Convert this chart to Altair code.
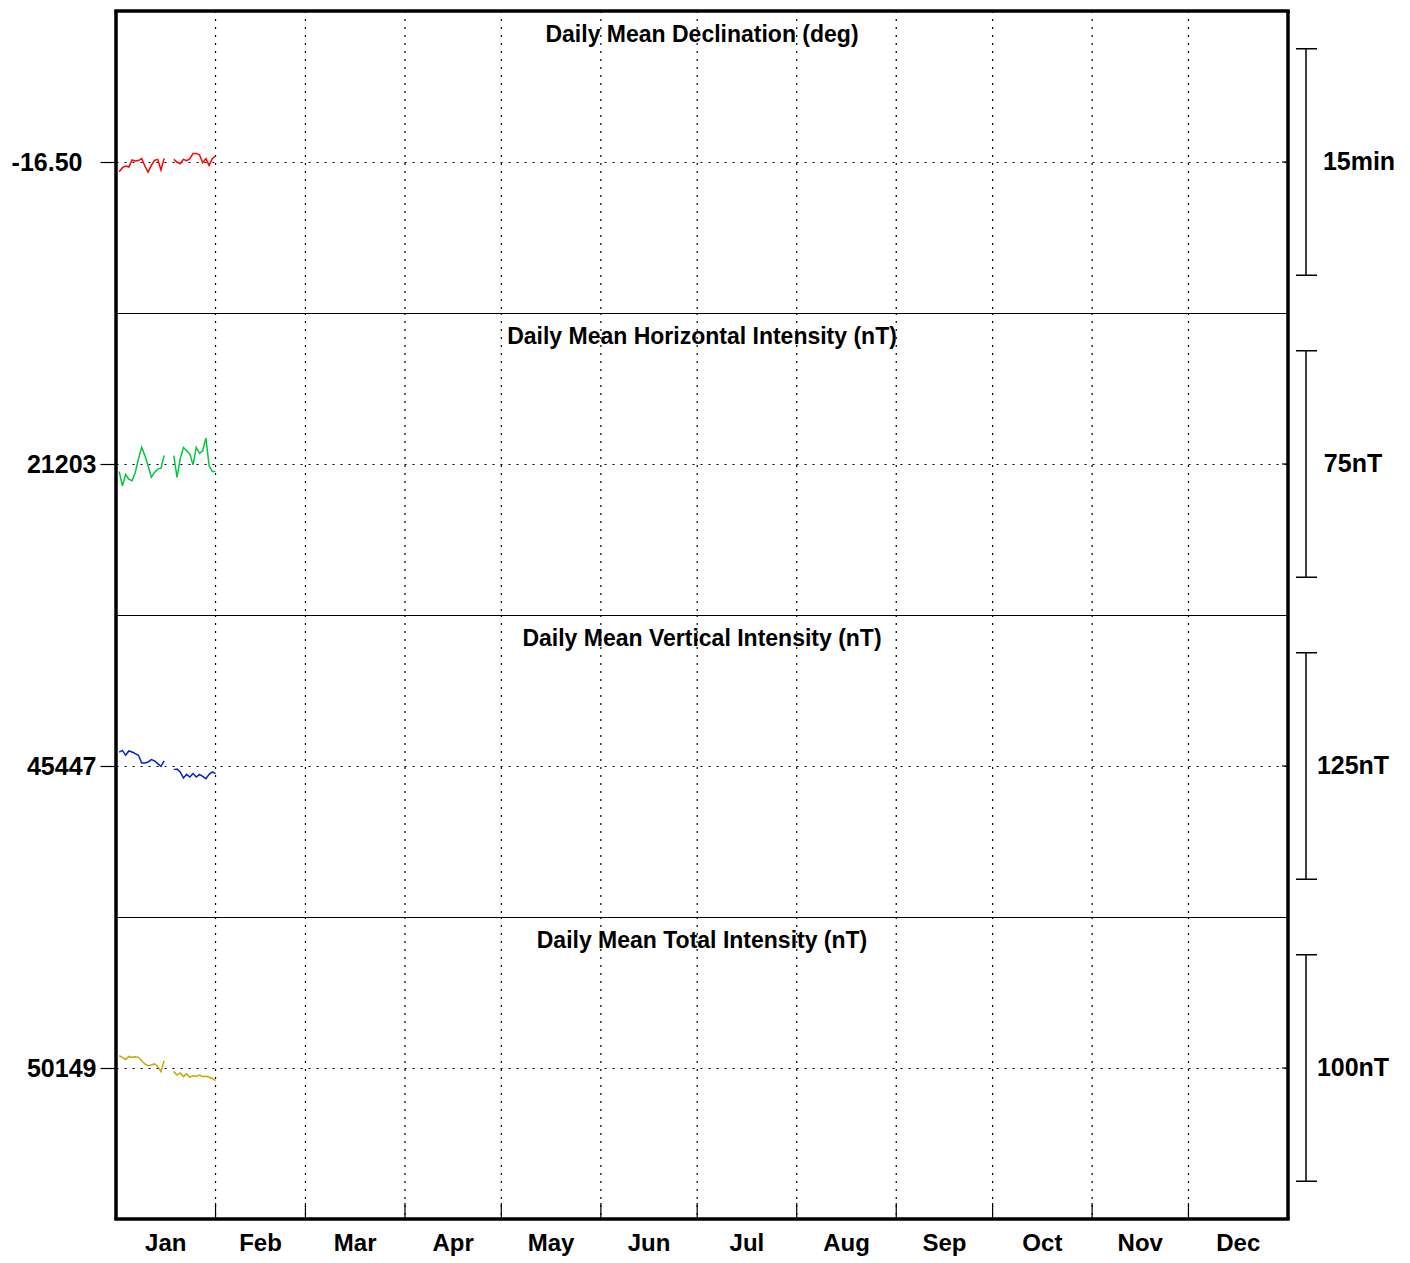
import altair as alt
import pandas as pd

# ---------------- data ----------------
days_a = list(range(1, 16))
days_b = list(range(18, 32))

dec_a = [-16.5107, -16.5063, -16.5044, -16.5055, -16.4978, -16.4989, -16.4984, -16.4963,
         -16.5044, -16.5111, -16.5038, -16.4982, -16.4971, -16.5088, -16.4960]
dec_b = [-16.4971, -16.5000, -16.5019, -16.4971, -16.4985, -16.4963, -16.4905, -16.4905,
         -16.4920, -16.5008, -16.4963, -16.5038, -16.4963, -16.4934]

h_a = [21200.5, 21195.8, 21199.5, 21198.0, 21197.5, 21200.2, 21204.7, 21208.5,
       21205.8, 21202.4, 21198.6, 21200.2, 21201.3, 21201.6, 21205.8]
h_b = [21205.8, 21198.6, 21204.7, 21208.5, 21207.4, 21206.3, 21202.7, 21208.5,
       21206.5, 21207.4, 21211.6, 21202.4, 21200.5, 21200.5]

z_a = [45454.7, 45455.6, 45452.9, 45455.3, 45454.7, 45453.8, 45452.9, 45448.7,
       45448.7, 45449.2, 45450.5, 45449.8, 45448.3, 45446.8, 45449.8]
z_b = [45445.0, 45445.3, 45443.7, 45440.4, 45442.4, 45440.9, 45442.8, 45440.9,
       45442.4, 45441.3, 45440.0, 45442.4, 45443.7, 45442.8]

f_a = [50154.4, 50153.7, 50152.7, 50154.1, 50153.7, 50154.0, 50153.7, 50152.2,
       50150.8, 50150.0, 50150.3, 50150.8, 50149.7, 50147.4, 50152.2]
f_b = [50147.4, 50145.9, 50146.8, 50145.2, 50146.4, 50144.9, 50145.6, 50145.3,
       50145.9, 50145.2, 50145.3, 50144.9, 50144.4, 50143.4]

titles = ["Daily Mean Declination (deg)", "Daily Mean Horizontal Intensity (nT)",
          "Daily Mean Vertical Intensity (nT)", "Daily Mean Total Intensity (nT)"]
centers = [-16.50, 21203, 45447, 50149]
center_fmt = [".2f", "d", "d", "d"]
scale_lengths = [0.25, 75, 125, 100]        # scale bar length in data units
scale_labels = ["15min", "75nT", "125nT", "100nT"]
colors = ["#ff0000", "#00c83c", "#0020d0", "#c8a800"]
series = [(dec_a, dec_b), (h_a, h_b), (z_a, z_b), (f_a, f_b)]

month_names = ["Jan", "Feb", "Mar", "Apr", "May", "Jun",
               "Jul", "Aug", "Sep", "Oct", "Nov", "Dec"]
month_lengths = [31, 28, 31, 30, 31, 30, 31, 31, 30, 31, 30, 31]

# ---------------- derived tables ----------------
month_starts = []
acc = 0
for L in month_lengths:
    month_starts.append(acc)
    acc += L
year_len = acc
month_mids = [s + L / 2 for s, L in zip(month_starts, month_lengths)]
boundaries = pd.DataFrame({"day": month_starts[1:]})
months_df = pd.DataFrame({"mid": month_mids, "name": month_names})

W = 1172
H = 302
FONT = "Liberation Sans"


def panel(i):
    a, b = series[i]
    c = centers[i]
    half = scale_lengths[i] * 2.0 / 3.0
    df = pd.DataFrame({
        "day": days_a + days_b,
        "value": a + b,
        "seg": ["a"] * len(a) + ["b"] * len(b),
    })
    last = i == 3
    first = i == 0

    xscale = alt.Scale(domain=[0, year_len], nice=False, zero=False)
    yscale = alt.Scale(domain=[c - half, c + half], nice=False, zero=False)

    yaxis = alt.Axis(values=[c], format=center_fmt[i],
                     labelExpr="replace(datum.label, '\u2212', '-')",
                     grid=True, gridDash=[2, 6],
                     gridColor="black", gridOpacity=1, gridWidth=1.2,
                     tickSize=16, tickColor="black", tickWidth=1.2,
                     domain=False, title=None,
                     labelFont=FONT, labelFontSize=25, labelFontWeight="bold",
                     labelColor="black", labelPadding=18 if first else 4)

    def X(field):
        return alt.X(field, scale=xscale, axis=None)

    def Y(field):
        return alt.Y(field, scale=yscale, axis=yaxis)

    line = alt.Chart(df).mark_line(strokeWidth=1.5, color=colors[i]).encode(
        x=X("day:Q"), y=Y("value:Q"), detail="seg:N")

    grid = alt.Chart(boundaries).mark_rule(color="black", strokeDash=[2, 6],
                                           strokeWidth=1.2).encode(x=X("day:Q"))

    title = alt.Chart(pd.DataFrame({"t": [titles[i]]})).mark_text(
        font=FONT, fontSize=23, fontWeight="bold", color="black", baseline="middle",
        align="center").encode(x=alt.value(W / 2), y=alt.value(24), text="t:N")

    sb = pd.DataFrame({"lo": [c - scale_lengths[i] / 2], "hi": [c + scale_lengths[i] / 2],
                       "mid": [c], "lab": [scale_labels[i]]})
    bar = alt.Chart(sb).mark_rule(color="black", strokeWidth=1.5).encode(
        x=alt.value(W + 18), y=Y("lo:Q"), y2="hi:Q")
    cap_lo = alt.Chart(sb).mark_rule(color="black", strokeWidth=1.5).encode(
        x=alt.value(W + 8), x2=alt.value(W + 29), y=Y("lo:Q"))
    cap_hi = alt.Chart(sb).mark_rule(color="black", strokeWidth=1.5).encode(
        x=alt.value(W + 8), x2=alt.value(W + 29), y=Y("hi:Q"))
    sb_lab = alt.Chart(sb).mark_text(font=FONT, fontSize=25, fontWeight="bold",
                                     color="black", align="center",
                                     baseline="middle").encode(
        x=alt.value(W + (71 if first else 65)), y=Y("mid:Q"), text="lab:N")

    border_l = alt.Chart(sb).mark_rule(color="black", strokeWidth=3.5).encode(
        x=alt.value(0), y=alt.value(0), y2=alt.value(H))
    border_r = alt.Chart(sb).mark_rule(color="black", strokeWidth=3.5).encode(
        x=alt.value(W), y=alt.value(0), y2=alt.value(H))
    inner_tick = alt.Chart(sb).mark_rule(color="black", strokeWidth=1.2).encode(
        x=alt.value(W - 6), x2=alt.value(W), y=Y("mid:Q"))

    layers = [grid, line, title, bar, cap_lo, cap_hi, sb_lab, border_l, border_r, inner_tick]
    if first:
        layers.append(alt.Chart(sb).mark_rule(color="black", strokeWidth=3.5).encode(
            y=alt.value(0), x=alt.value(-1.75), x2=alt.value(W + 1.75)))
    if last:
        layers.append(alt.Chart(boundaries).mark_rule(color="black", strokeWidth=1.2).encode(
            x=X("day:Q"), y=alt.value(H - 16), y2=alt.value(H)))
        layers.append(alt.Chart(sb).mark_rule(color="black", strokeWidth=3.5).encode(
            y=alt.value(H), x=alt.value(-1.75), x2=alt.value(W + 1.75)))
        layers.append(alt.Chart(months_df).mark_text(
            font=FONT, fontSize=24, fontWeight="bold", color="black",
            align="center", baseline="middle").encode(
            x=X("mid:Q"), y=alt.value(H + 25), text="name:N"))
    return alt.layer(*layers).properties(width=W, height=H)


chart = alt.vconcat(*[panel(i) for i in range(4)], spacing=0, bounds="flush").properties(
    padding={"left": 2, "top": 0, "right": 5, "bottom": 5},
    background="white",
).configure_view(stroke="black", strokeWidth=1)

chart.save("out.html", embed_options={"renderer": "svg", "actions": False})
